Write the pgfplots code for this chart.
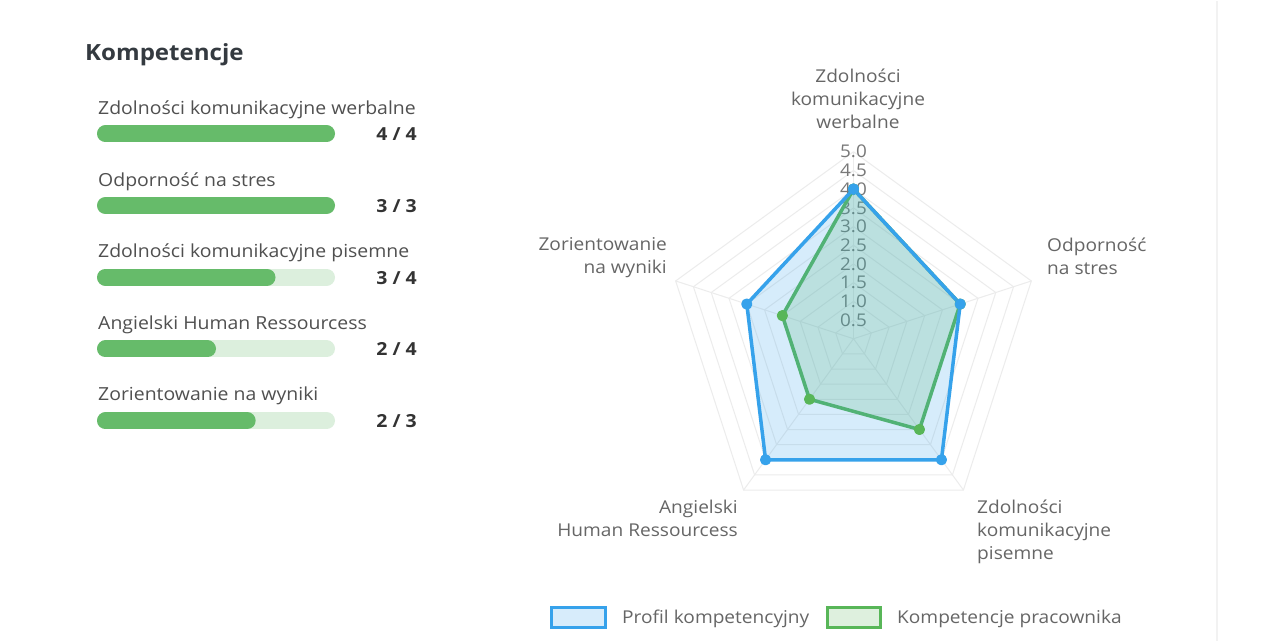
\documentclass[border=0pt]{standalone}
\usepackage{fontspec}
\setmainfont{Open Sans}[FakeStretch=1.08]
\usepackage{pgfplots}
\pgfplotsset{compat=1.18}
\usepgfplotslibrary{polar}

\definecolor{barfill}{RGB}{102,187,106}
\definecolor{bartrack}{RGB}{220,239,221}
\definecolor{titlec}{RGB}{52,58,64}
\definecolor{labelc}{RGB}{80,80,80}
\definecolor{valc}{RGB}{51,51,51}
\definecolor{radarc}{RGB}{102,102,102}
\definecolor{tickc}{RGB}{120,120,120}
\definecolor{gridc}{RGB}{236,236,236}
\definecolor{profil}{RGB}{54,162,235}
\definecolor{prac}{RGB}{88,182,88}

\tikzset{
  lab/.style={font=\fontsize{18}{22}\selectfont, text=labelc, inner sep=0pt},
  val/.style={font=\fontsize{18}{22}\selectfont\bfseries, text=valc, inner sep=0pt},
  rlab/.style={font=\fontsize{17.7}{22}\selectfont, text=radarc, inner sep=0pt},
  tck/.style={font=\fontsize{17.5}{20}\selectfont, text=tickc, inner sep=0pt},
}

\begin{document}
\begin{tikzpicture}[x=1pt,y=1pt]
\fill[white] (0,0) rectangle (1280,640);
\draw[gray!10, line width=1.5pt] (1217,0) -- (1217,640);

% lewy panel
\node[anchor=base west, inner sep=0pt, text=titlec,
  font=\fontsize{22.3}{26}\selectfont\bfseries] at (85,580.5) {Kompetencje};

\node[lab, anchor=base west] at (98,526.5) {Zdolności komunikacyjne werbalne};
\node[lab, anchor=base west] at (98,454.5) {Odporność na stres};
\node[lab, anchor=base west] at (98,383) {Zdolności komunikacyjne pisemne};
\node[lab, anchor=base west] at (98,311.5) {Angielski Human Ressourcess};
\node[lab, anchor=base west] at (98,240) {Zorientowanie na wyniki};

\node[val, anchor=base east] at (417,500.5) {4 / 4};
\node[val, anchor=base east] at (417,428.5) {3 / 3};
\node[val, anchor=base east] at (417,356.5) {3 / 4};
\node[val, anchor=base east] at (417,285.5) {2 / 4};
\node[val, anchor=base east] at (417,213.5) {2 / 3};

\begin{axis}[at={(97pt,220pt)}, anchor=south west, scale only axis,
  width=238pt, height=287pt, xmin=0, xmax=1, ymin=1, ymax=5,
  hide axis, clip=false,
  every axis plot/.append style={line width=17pt, line cap=round,
    shorten <=8.5pt, shorten >=8.5pt}]
  \addplot[draw=bartrack] coordinates {(0,5) (1,5)};
  \addplot[draw=barfill] coordinates {(0,5) (1,5)};
  \addplot[draw=bartrack] coordinates {(0,4) (1,4)};
  \addplot[draw=barfill] coordinates {(0,4) (1,4)};
  \addplot[draw=bartrack] coordinates {(0,3) (1,3)};
  \addplot[draw=barfill] coordinates {(0,3) (0.75,3)};
  \addplot[draw=bartrack] coordinates {(0,2) (1,2)};
  \addplot[draw=barfill] coordinates {(0,2) (0.5,2)};
  \addplot[draw=bartrack] coordinates {(0,1) (1,1)};
  \addplot[draw=barfill] coordinates {(0,1) (0.6667,1)};
\end{axis}

% radar
\node[rlab, anchor=base] at (858,558) {Zdolności};
\node[rlab, anchor=base] at (858,535) {komunikacyjne};
\node[rlab, anchor=base] at (858,512) {werbalne};
\node[rlab, anchor=base west] at (1047,389) {Odporność};
\node[rlab, anchor=base west] at (1047,366) {na stres};
\node[rlab, anchor=base west] at (977,127) {Zdolności};
\node[rlab, anchor=base west] at (977,104) {komunikacyjne};
\node[rlab, anchor=base west] at (977,81) {pisemne};
\node[rlab, anchor=base east] at (738,127) {Angielski};
\node[rlab, anchor=base east] at (738,104) {Human Ressourcess};
\node[rlab, anchor=base east] at (667,390) {Zorientowanie};
\node[rlab, anchor=base east] at (667,367) {na wyniki};

\begin{polaraxis}[at={(853.5pt,302pt)}, anchor=center, scale only axis,
  width=374pt, height=374pt, xmin=0, xmax=360, ymin=0, ymax=5,
  hide axis, clip=false]
  \pgfplotsinvokeforeach{0.5,1,...,5}{
    \addplot[draw=gridc, line width=1pt, line cap=round]
      coordinates {(90,#1) (18,#1) (306,#1) (234,#1) (162,#1) (90,#1)};
  }
  \pgfplotsinvokeforeach{90,18,306,234,162}{
    \addplot[draw=gridc, line width=1pt] coordinates {(#1,0) (#1,5)};
  }
  \node[tck] at (axis cs:90,5) {5.0};
  \node[tck] at (axis cs:90,4.5) {4.5};
  \node[tck] at (axis cs:90,4) {4.0};
  \node[tck] at (axis cs:90,3.5) {3.5};
  \node[tck] at (axis cs:90,3) {3.0};
  \node[tck] at (axis cs:90,2.5) {2.5};
  \node[tck] at (axis cs:90,2) {2.0};
  \node[tck] at (axis cs:90,1.5) {1.5};
  \node[tck] at (axis cs:90,1) {1.0};
  \node[tck] at (axis cs:90,0.5) {0.5};
  % Kompetencje pracownika
  \addplot[draw=prac, fill=prac, fill opacity=0.2, line width=3.5pt,
    line join=round, line cap=round, mark=*, mark size=3.8pt,
    mark options={fill=prac, fill opacity=1}]
    coordinates {(90,4) (18,3) (306,3) (234,2) (162,2) (90,4)};
  % Profil kompetencyjny
  \addplot[draw=profil, fill=profil, fill opacity=0.2, line width=3.5pt,
    line join=round, line cap=round, mark=*, mark size=3.8pt,
    mark options={fill=profil, fill opacity=1}]
    coordinates {(90,4) (18,3) (306,4) (234,4) (162,3) (90,4)};
\end{polaraxis}

% legenda
\draw[profil, line width=3pt, fill=profil!20] (551.5,13.5) rectangle (605.5,33.5);
\node[rlab, anchor=base west] at (622,17) {Profil kompetencyjny};
\draw[prac, line width=3pt, fill=prac!20] (827.5,13.5) rectangle (880.5,33.5);
\node[rlab, anchor=base west] at (897,17) {Kompetencje pracownika};
\end{tikzpicture}
\end{document}
